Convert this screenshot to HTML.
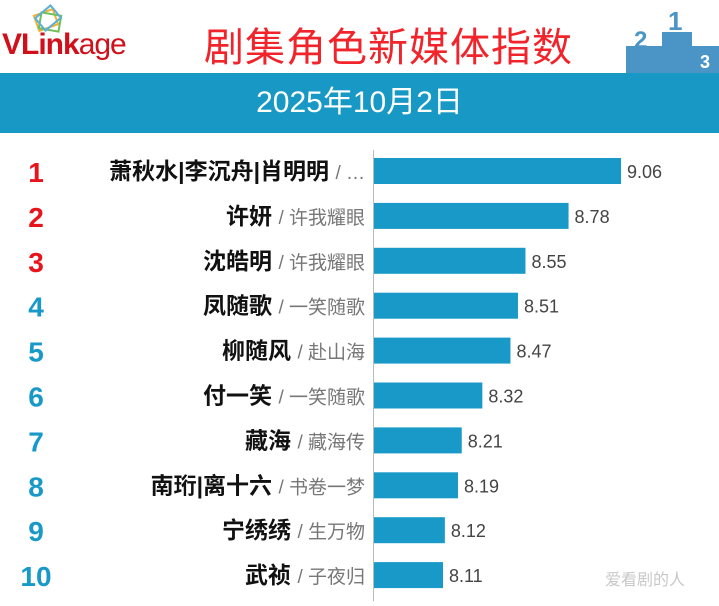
<!DOCTYPE html>
<html><head><meta charset="utf-8"><style>
body{margin:0;width:719px;height:601px;overflow:hidden;background:#fff;font-family:"Liberation Sans","Noto Sans CJK SC",sans-serif;position:relative}
.abs{position:absolute}
</style></head><body>
<div class="abs" style="left:2px;top:4px;width:160px;height:58px">
<svg width="60" height="36" style="position:absolute;left:24px;top:0">
<rect x="10" y="8" width="20" height="16" fill="none" stroke="#f2b134" stroke-width="2" transform="rotate(-20 20 16)"/>
<rect x="14" y="10" width="20" height="16" fill="none" stroke="#6fbf5a" stroke-width="2" transform="rotate(10 24 18)"/>
<rect x="12" y="6" width="20" height="16" fill="none" stroke="#5ab0d8" stroke-width="2" transform="rotate(-40 22 14)"/>
</svg>
<div class="abs" style="left:0;top:24px;font-size:30px;font-weight:bold;color:#d0101a;letter-spacing:-1px">VLink<span style="font-weight:normal">age</span></div>
</div>
<div class="abs" style="left:204px;top:18px;font-size:40px;line-height:52px;color:#f0242a;letter-spacing:1px;font-family:'Noto Sans CJK SC',sans-serif">剧集角色新媒体指数</div>
<svg class="abs" style="left:626px;top:4px" width="93" height="70">
<rect x="0" y="42" width="93" height="28" fill="#4a94c6"/>
<rect x="36" y="28" width="30" height="42" fill="#4a94c6"/>
<text x="8" y="44" font-size="24" font-weight="bold" fill="#4a94c6" font-family="Liberation Sans">2</text>
<text x="42" y="26" font-size="26" font-weight="bold" fill="#4a94c6" font-family="Liberation Sans">1</text>
<text x="74" y="64" font-size="18" font-weight="bold" fill="#fff" font-family="Liberation Sans">3</text>
</svg>
<div class="abs" style="left:0;top:73px;width:719px;height:60px;background:#1899c5;color:#fff;font-size:30px;text-align:center;line-height:60px;font-family:'Liberation Sans','Noto Sans CJK SC',sans-serif">2025年10月2日</div>
<div id="chart" class="abs" style="left:0;top:0;width:719px;height:601px"></div>
<div class="abs" style="left:605px;top:566px;font-size:16px;color:#c8c8c8">爱看剧的人</div>
<script>
const roles=["萧秋水|李沉舟|肖明明","许妍","沈皓明","凤随歌","柳随风","付一笑","藏海","南珩|离十六","宁绣绣","武祯"];
const dramas=["…","许我耀眼","许我耀眼","一笑随歌","赴山海","一笑随歌","藏海传","书卷一梦","生万物","子夜归"];
const values=[9.06,8.78,8.55,8.51,8.47,8.32,8.21,8.19,8.12,8.11];
const ranks=["1","2","3","4","5","6","7","8","9","10"];
const ns="http://www.w3.org/2000/svg";
const svg=document.createElementNS(ns,"svg");
svg.setAttribute("width","719");svg.setAttribute("height","601");


document.getElementById("chart").appendChild(svg);
const x0=374;
function xs(v){return 443+(v-8.11)*187.4;}
function yc(i){return 171+i*44.9;}
function mk(t,a){const e=document.createElementNS(ns,t);for(const k in a)e.setAttribute(k,a[k]);svg.appendChild(e);return e;}
const ax=mk("line",{x1:373.5,x2:373.5,y1:150,y2:601,stroke:"#bbb","stroke-width":1});


values.forEach((v,i)=>{
  const y=yc(i);
  const b=mk("rect",{x:x0,y:y-13,width:xs(v)-x0,height:26,fill:"#1899c8"});
  
  
  const vt=mk("text",{x:xs(v)+6,y:y+7,"font-size":18,fill:"#444","font-family":"Liberation Sans"});
  vt.textContent=v.toFixed(2);
  
  
  const r=mk("text",{x:36,y:y+11,"font-size":28,"font-weight":"bold","text-anchor":"middle",fill:i<3?"#e8141c":"#1899c8","font-family":"Liberation Sans"});
  r.textContent=ranks[i];
  
  
  const t=mk("text",{x:365,y:y+8,"font-size":23,"text-anchor":"end","font-family":"'Liberation Sans','Noto Sans CJK SC',sans-serif"});
  const s1=document.createElementNS(ns,"tspan");s1.setAttribute("font-weight","bold");s1.setAttribute("fill","#111");s1.textContent=roles[i]+" ";
  const s2=document.createElementNS(ns,"tspan");s2.setAttribute("fill","#777");s2.setAttribute("font-size","19");s2.textContent="/ "+dramas[i];
  t.appendChild(s1);t.appendChild(s2);
  
  
});
</script>
</body></html>
